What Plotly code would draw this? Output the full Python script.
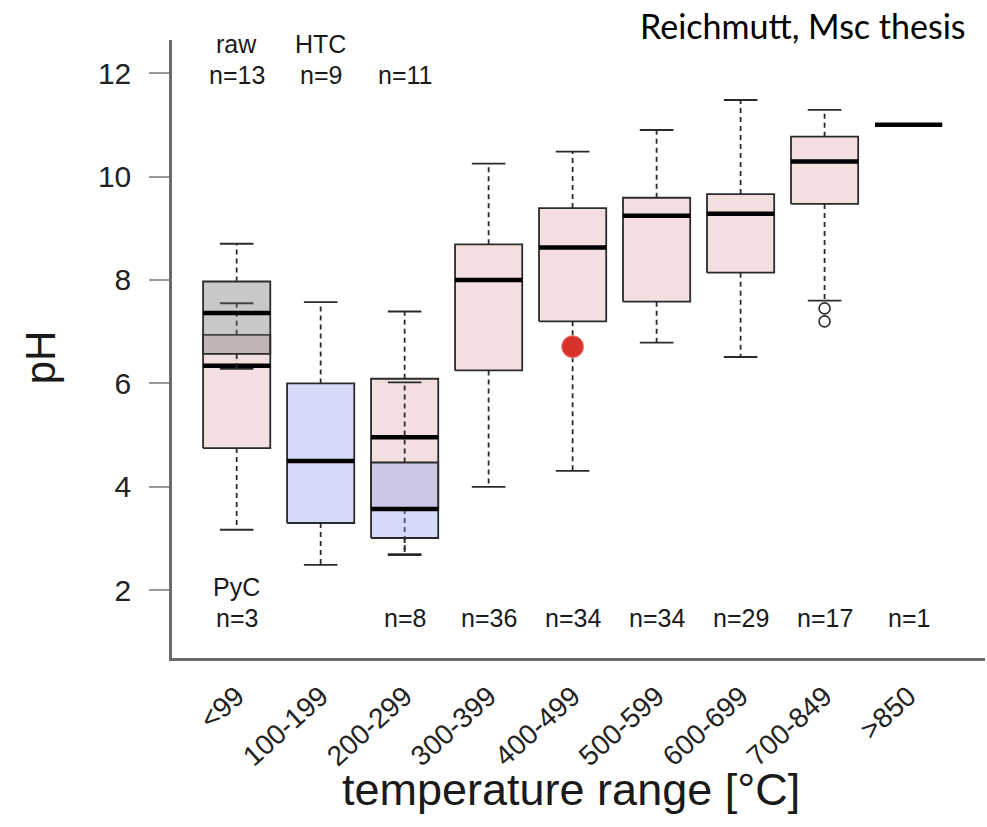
import plotly.graph_objects as go

# ---------------- data ----------------
categories = ["<99", "100-199", "200-299", "300-399", "400-499",
              "500-599", "600-699", "700-849", ">850"]
positions = [1, 2, 3, 4, 5, 6, 7, 8, 9]

# PyC boxes (pink) - positions with data
pyc_pos = [1, 3, 4, 5, 6, 7, 8, 9]
pyc_lo = [3.17, 2.70, 4.00, 4.31, 6.79, 6.51, 7.60, 11.0]
pyc_q1 = [4.75, 3.57, 6.25, 7.20, 7.58, 8.14, 9.47, 11.0]
pyc_med = [6.34, 4.96, 8.00, 8.63, 9.24, 9.28, 10.29, 11.0]
pyc_q3 = [6.94, 6.09, 8.69, 9.39, 9.59, 9.66, 10.77, 11.0]
pyc_hi = [7.55, 7.39, 10.25, 10.48, 10.90, 11.48, 11.29, 11.0]
pyc_n = ["n=3", "n=8", "n=36", "n=34", "n=34", "n=29", "n=17", "n=1"]
pyc_out_x = [8, 8]
pyc_out_y = [7.45, 7.20]

# raw biomass (grey)
raw_pos = [1]
raw_lo = [6.28]
raw_q1 = [6.57]
raw_med = [7.36]
raw_q3 = [7.97]
raw_hi = [8.70]
raw_n = ["n=13"]

# HTC (blue)
htc_pos = [2, 3]
htc_lo = [2.49, 2.68]
htc_q1 = [3.30, 3.01]
htc_med = [4.50, 3.57]
htc_q3 = [6.00, 4.47]
htc_hi = [7.57, 6.02]
htc_n = ["n=9", "n=11"]

# highlighted sample (red dot)
mark_x = [5]
mark_y = [6.71]

y_ticks = [2, 4, 6, 8, 10, 12]

BOX_HALF = 0.4
CAP_HALF = 0.2
FONT = "Liberation Sans, Arial, sans-serif"

fig = go.Figure()


def add_group(pos, lo, q1, med, q3, hi, fill):
    bx, by = [], []
    for p, a, b in zip(pos, q1, q3):
        bx += [p - BOX_HALF, p + BOX_HALF, p + BOX_HALF, p - BOX_HALF, p - BOX_HALF, None]
        by += [a, a, b, b, a, None]
    fig.add_trace(go.Scatter(x=bx, y=by, mode="lines", fill="toself",
                             fillcolor=fill, line=dict(color="#2b2b2b", width=1.8),
                             hoverinfo="skip"))
    wx, wy = [], []
    for p, l, a, b, h in zip(pos, lo, q1, q3, hi):
        if h > b:
            wx += [p, p, None]
            wy += [b, h, None]
        if l < a:
            wx += [p, p, None]
            wy += [a, l, None]
    fig.add_trace(go.Scatter(x=wx, y=wy, mode="lines",
                             line=dict(color="#2b2b2b", width=1.8, dash="5px,4px"),
                             hoverinfo="skip"))
    cx, cy = [], []
    for p, l, a, b, h in zip(pos, lo, q1, q3, hi):
        if h > b:
            cx += [p - CAP_HALF, p + CAP_HALF, None]
            cy += [h, h, None]
        if l < a:
            cx += [p - CAP_HALF, p + CAP_HALF, None]
            cy += [l, l, None]
    fig.add_trace(go.Scatter(x=cx, y=cy, mode="lines",
                             line=dict(color="#2b2b2b", width=1.8),
                             hoverinfo="skip"))
    mx, my = [], []
    for p, m in zip(pos, med):
        mx += [p - BOX_HALF, p + BOX_HALF, None]
        my += [m, m, None]
    fig.add_trace(go.Scatter(x=mx, y=my, mode="lines",
                             line=dict(color="#000000", width=4.5),
                             hoverinfo="skip"))


add_group(pyc_pos, pyc_lo, pyc_q1, pyc_med, pyc_q3, pyc_hi, "rgba(215,150,150,0.30)")
fig.add_trace(go.Scatter(x=pyc_out_x, y=pyc_out_y, mode="markers",
                         marker=dict(symbol="circle-open", size=11, color="#2b2b2b",
                                     line=dict(width=1.6)),
                         hoverinfo="skip"))
add_group(raw_pos, raw_lo, raw_q1, raw_med, raw_q3, raw_hi, "rgba(110,110,110,0.38)")
add_group(htc_pos, htc_lo, htc_q1, htc_med, htc_q3, htc_hi, "rgba(145,155,240,0.37)")

fig.add_trace(go.Scatter(x=mark_x, y=mark_y, mode="markers",
                         marker=dict(size=22, color="#d8322c",
                                     line=dict(color="#f08a80", width=1)),
                         hoverinfo="skip"))

# ---------------- text labels ----------------
txt = dict(family=FONT, size=25, color="#1a1a1a")
ann = []
ann.append(dict(x=raw_pos[0], y=12.56, text="raw", showarrow=False, font=txt))
for p, t in zip(raw_pos, raw_n):
    ann.append(dict(x=p, y=11.96, text=t, showarrow=False, font=txt))
ann.append(dict(x=htc_pos[0], y=12.56, text="HTC", showarrow=False, font=txt))
for p, t in zip(htc_pos, htc_n):
    ann.append(dict(x=p, y=11.96, text=t, showarrow=False, font=txt))
ann.append(dict(x=pyc_pos[0], y=2.06, text="PyC", showarrow=False, font=txt))
for p, t in zip(pyc_pos, pyc_n):
    ann.append(dict(x=p, y=1.47, text=t, showarrow=False, font=txt))

ann.append(dict(xref="paper", yref="paper", x=0.4908, y=-0.2120,
                text="temperature range [°C]", showarrow=False,
                xanchor="center", yanchor="middle",
                font=dict(family=FONT, size=45, color="#1a1a1a")))
ann.append(dict(xref="paper", yref="paper", x=-0.162, y=0.487,
                text="pH", showarrow=False, textangle=-90,
                xanchor="center", yanchor="middle",
                font=dict(family=FONT, size=42, color="#1a1a1a")))
ann.append(dict(xref="paper", yref="paper", x=0.979, y=1.0227,
                text="Reichmutt, Msc thesis", showarrow=False,
                xanchor="right", yanchor="middle",
                font=dict(family="Lato, Open Sans, sans-serif", size=34, color="#000000")))

fig.update_layout(
    width=987, height=827,
    margin=dict(l=172, r=2, t=40, b=169),
    paper_bgcolor="white", plot_bgcolor="white",
    showlegend=False,
    annotations=ann,
    xaxis=dict(range=[0.23, 9.91], tickvals=positions, ticktext=categories,
               tickangle=-42, ticks="", showgrid=False, zeroline=False,
               showline=True, linecolor="#6a6a6a", linewidth=2.5,
               tickfont=dict(family=FONT, size=28, color="#222222"),
               ticklabelstandoff=8, automargin=False),
    yaxis=dict(range=[0.69, 12.64], tickvals=y_ticks, ticks="outside",
               ticklen=20, tickwidth=1.5, tickcolor="#9a9a9a",
               showgrid=False, zeroline=False,
               showline=True, linecolor="#6a6a6a", linewidth=2.5,
               tickfont=dict(family=FONT, size=30, color="#222222"),
               ticklabelstandoff=12, automargin=False),
)

fig.write_html("out.html")
